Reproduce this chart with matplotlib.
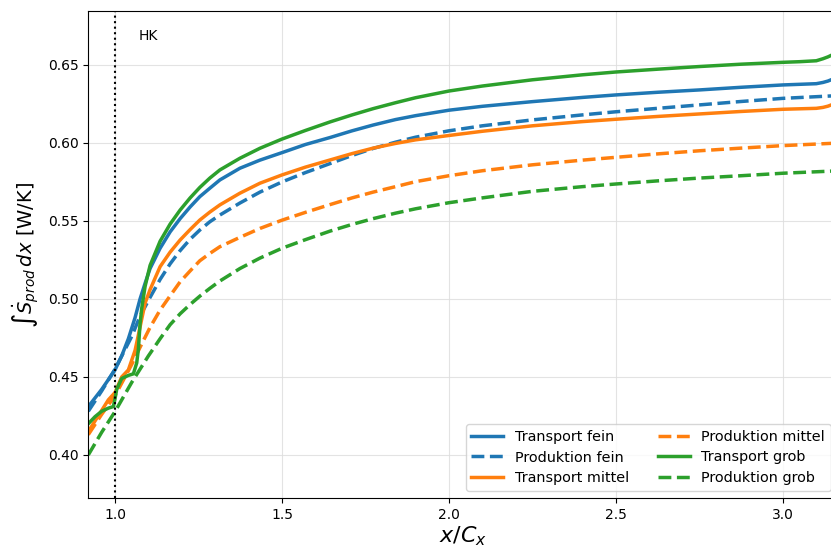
import matplotlib
matplotlib.use("Agg")
import matplotlib.pyplot as plt

# ---- data ----
x_tf = [0.92, 0.96, 1.0, 1.02, 1.04, 1.06, 1.075, 1.09, 1.105, 1.135, 1.165, 1.195, 1.225, 1.254,
        1.284, 1.314, 1.374, 1.434, 1.5, 1.57, 1.644, 1.71, 1.773, 1.84, 1.9, 2.0, 2.1, 2.25, 2.4,
        2.5, 2.625, 2.75, 2.875, 3.0, 3.05, 3.1, 3.12, 3.135, 3.15]
y_tf = [0.431, 0.442, 0.4545, 0.4635, 0.4745, 0.488, 0.500, 0.510, 0.5195, 0.5325, 0.543, 0.5515,
        0.559, 0.5656, 0.571, 0.5763, 0.5838, 0.589, 0.5938, 0.599, 0.6035, 0.6078, 0.6115, 0.615,
        0.6175, 0.621, 0.6235, 0.6265, 0.6292, 0.6308, 0.6325, 0.634, 0.6357, 0.6372, 0.6376, 0.638,
        0.6388, 0.6397, 0.641]

x_pf = [0.92, 0.96, 1.0, 1.05, 1.075, 1.105, 1.135, 1.165, 1.195, 1.225, 1.254, 1.284, 1.314,
        1.374, 1.434, 1.5, 1.57, 1.644, 1.71, 1.773, 1.84, 1.9, 2.0, 2.1, 2.25, 2.4, 2.5, 2.625,
        2.75, 2.875, 3.0, 3.15]
y_pf = [0.428, 0.441, 0.455, 0.476, 0.489, 0.501, 0.5125, 0.5225, 0.531, 0.5383, 0.5442, 0.5495,
        0.5538, 0.5615, 0.5685, 0.575, 0.581, 0.5868, 0.592, 0.5965, 0.6005, 0.6037, 0.6078, 0.611,
        0.6148, 0.618, 0.620, 0.6222, 0.6244, 0.6266, 0.6286, 0.6302]

x_tm = [0.92, 0.96, 0.98, 1.0, 1.02, 1.04, 1.06, 1.075, 1.09, 1.105, 1.135, 1.165, 1.195, 1.225,
        1.254, 1.284, 1.314, 1.374, 1.434, 1.5, 1.57, 1.644, 1.71, 1.773, 1.84, 1.9, 2.0, 2.1,
        2.25, 2.4, 2.5, 2.625, 2.75, 2.875, 3.0, 3.05, 3.1, 3.12, 3.135, 3.15]
y_tm = [0.415, 0.4285, 0.4353, 0.440, 0.450, 0.4545, 0.467, 0.482, 0.4973, 0.506, 0.5207, 0.530,
        0.5378, 0.5445, 0.5506, 0.5557, 0.5603, 0.5678, 0.5742, 0.5795, 0.5845, 0.5891, 0.5932,
        0.5967, 0.5997, 0.602, 0.6048, 0.6075, 0.611, 0.6137, 0.6152, 0.617, 0.6186, 0.6202, 0.6216,
        0.6219, 0.6222, 0.6228, 0.6236, 0.6248]

x_pm = [0.92, 0.96, 1.0, 1.05, 1.075, 1.105, 1.135, 1.165, 1.195, 1.225, 1.254, 1.284, 1.314,
        1.374, 1.434, 1.5, 1.57, 1.644, 1.71, 1.773, 1.84, 1.9, 2.0, 2.1, 2.25, 2.4, 2.5, 2.625,
        2.75, 2.875, 3.0, 3.15]
y_pm = [0.413, 0.426, 0.438, 0.458, 0.469, 0.4818, 0.4929, 0.502, 0.511, 0.518, 0.5245, 0.5292,
        0.5335, 0.5395, 0.5452, 0.5505, 0.5555, 0.5605, 0.5648, 0.5685, 0.572, 0.5752, 0.579,
        0.5822, 0.586, 0.589, 0.5908, 0.593, 0.595, 0.5967, 0.5983, 0.5998]

x_tg = [0.92, 0.94, 0.96, 0.98, 0.995, 1.0, 1.005, 1.02, 1.04, 1.055, 1.065, 1.07, 1.075, 1.08,
        1.09, 1.105, 1.135, 1.165, 1.195, 1.225, 1.254, 1.284, 1.314, 1.374, 1.434, 1.5, 1.57,
        1.644, 1.71, 1.773, 1.84, 1.9, 2.0, 2.1, 2.25, 2.4, 2.5, 2.625, 2.75, 2.875, 3.0, 3.05,
        3.1, 3.12, 3.135, 3.15]
y_tg = [0.420, 0.4245, 0.428, 0.430, 0.431, 0.436, 0.442, 0.449, 0.451, 0.452, 0.459, 0.468, 0.484,
        0.494, 0.508, 0.5215, 0.537, 0.548, 0.557, 0.5648, 0.5715, 0.5775, 0.5827, 0.5902, 0.5966,
        0.6025, 0.608, 0.6135, 0.618, 0.622, 0.6258, 0.629, 0.6333, 0.6365, 0.6405, 0.6437, 0.6455,
        0.6473, 0.649, 0.6505, 0.6517, 0.6521, 0.6527, 0.654, 0.6552, 0.6567]

x_pg = [0.92, 0.96, 1.0, 1.05, 1.1, 1.135, 1.165, 1.195, 1.225, 1.254, 1.284, 1.314, 1.374, 1.434,
        1.5, 1.57, 1.644, 1.71, 1.773, 1.84, 1.9, 2.0, 2.1, 2.25, 2.4, 2.5, 2.625, 2.75, 2.875,
        3.0, 3.15]
y_pg = [0.400, 0.4145, 0.4278, 0.4465, 0.4635, 0.4745, 0.4835, 0.4905, 0.4965, 0.5018, 0.5068,
        0.5115, 0.5195, 0.5262, 0.5325, 0.538, 0.5435, 0.5478, 0.5515, 0.555, 0.5578, 0.5617,
        0.5648, 0.569, 0.572, 0.5737, 0.5757, 0.5775, 0.579, 0.5806, 0.582]

labels = ["Transport fein", "Produktion fein", "Transport mittel",
          "Produktion mittel", "Transport grob", "Produktion grob"]
hk_x = 1.0

# ---- figure ----
fig = plt.figure(figsize=(8.31, 5.47), dpi=100)
ax_left, ax_right, ax_top, ax_bottom = 88.3, 838.0, 11.0, 498.0
ax = fig.add_axes([ax_left / 831, 1 - ax_bottom / 547, (ax_right - ax_left) / 831,
                   (ax_bottom - ax_top) / 547])

c_blue, c_orange, c_green = "#1f77b4", "#ff7f0e", "#2ca02c"
lw = 2.5
ax.plot(x_tf, y_tf, color=c_blue, lw=lw, ls="-", label=labels[0])
ax.plot(x_pf, y_pf, color=c_blue, lw=lw, ls="--", label=labels[1])
ax.plot(x_tm, y_tm, color=c_orange, lw=lw, ls="-", label=labels[2])
ax.plot(x_pm, y_pm, color=c_orange, lw=lw, ls="--", label=labels[3])
ax.plot(x_tg, y_tg, color=c_green, lw=lw, ls="-", label=labels[4])
ax.plot(x_pg, y_pg, color=c_green, lw=lw, ls="--", label=labels[5])

ax.axvline(hk_x, color="black", ls=":", lw=1.5)
ax.text(1.07, 0.6685, "HK", fontsize=10, ha="left", va="center")

ax.set_xlim(0.92, 3.165)
ax.set_ylim(0.3724, 0.6846)
ax.set_xticks([1.0, 1.5, 2.0, 2.5, 3.0])
ax.set_yticks([0.40, 0.45, 0.50, 0.55, 0.60, 0.65])
ax.tick_params(labelsize=10)
ax.grid(True, color="#dddddd", lw=0.8, alpha=0.8)

ax.set_xlabel(r"$x/C_x$", fontsize=16, labelpad=2)
ax.set_ylabel(r"$\int\dot{S}_{prod}\,dx$ [W/K]", fontsize=14)

ax.legend(loc="lower right", ncol=2, fontsize=10.4, framealpha=0.8,
          handlelength=2.2, labelspacing=0.45)

fig.savefig("out.png", dpi=100)
